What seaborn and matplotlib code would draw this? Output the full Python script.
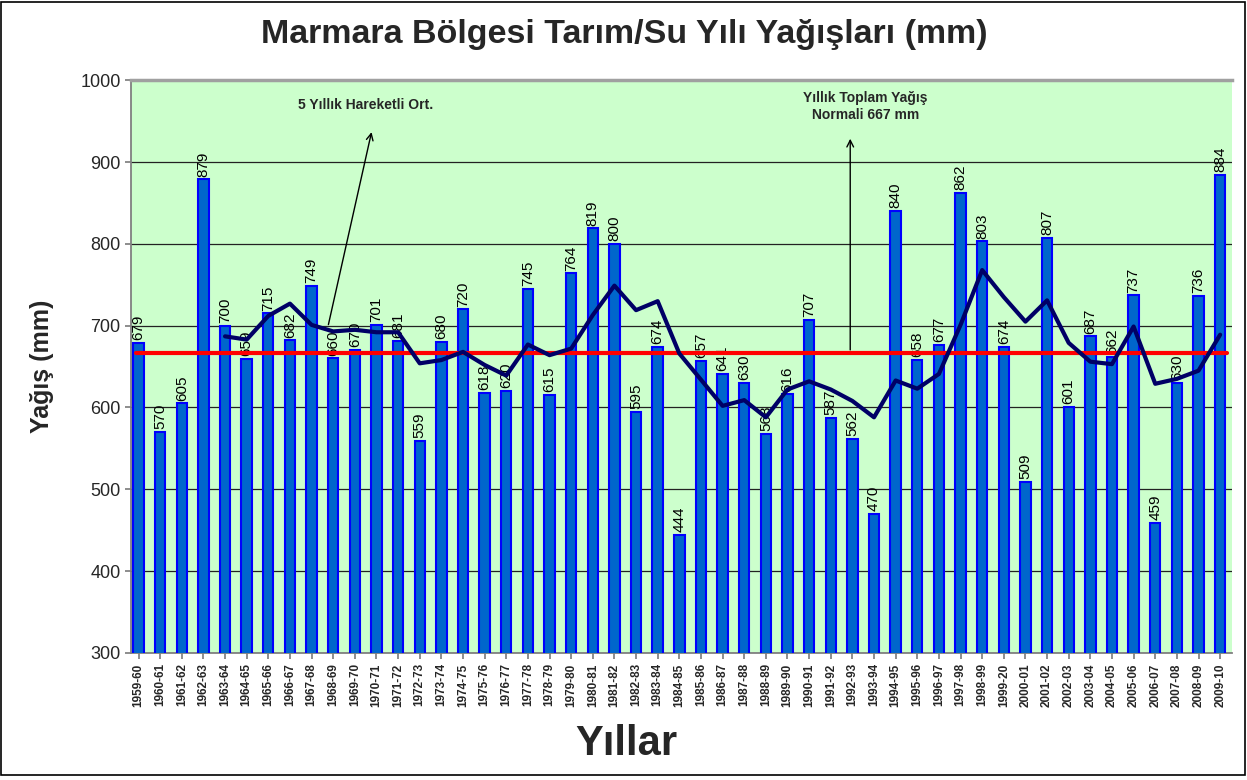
#! /usr/bin/env python3

import numpy as np
import pandas as pd
import matplotlib
matplotlib.use("Agg")
import matplotlib.pyplot as plt
import seaborn as sns
from matplotlib.patches import Rectangle

# water years and annual totals (mm)
seasons = ['1959-60', '1960-61', '1961-62', '1962-63', '1963-64', '1964-65', '1965-66',
           '1966-67', '1967-68', '1968-69', '1969-70', '1970-71', '1971-72', '1972-73',
           '1973-74', '1974-75', '1975-76', '1976-77', '1977-78', '1978-79', '1979-80',
           '1980-81', '1981-82', '1982-83', '1983-84', '1984-85', '1985-86', '1986-87',
           '1987-88', '1988-89', '1989-90', '1990-91', '1991-92', '1992-93', '1993-94',
           '1994-95', '1995-96', '1996-97', '1997-98', '1998-99', '1999-20', '2000-01',
           '2001-02', '2002-03', '2003-04', '2004-05', '2005-06', '2006-07', '2007-08',
           '2008-09', '2009-10']
rain = [679, 570, 605, 879, 700, 659, 715, 682, 749, 660, 670, 701, 681, 559, 680,
        720, 618, 620, 745, 615, 764, 819, 800, 595, 674, 444, 657, 641, 630, 568,
        616, 707, 587, 562, 470, 840, 658, 677, 862, 803, 674, 509, 807, 601, 687,
        662, 737, 459, 630, 736, 884]

# 5 year moving average (starts at 1963-64)
ma_start = '1963-64'
moving_avg = [687, 683, 712, 727, 701, 693, 695, 692, 692, 654, 658, 668, 652, 639,
              677, 664, 672, 713, 749, 719, 730, 666, 634, 602, 609, 588, 622, 632,
              622, 608, 588, 633, 623, 641, 701, 768, 735, 705, 731, 679, 656, 653,
              699, 629, 635, 645, 689]
normal = 667

df = pd.DataFrame({'Sezon': seasons, 'Yagis': rain})
ma_x = np.arange(seasons.index(ma_start), seasons.index(ma_start) + len(moving_avg))

sns.set_theme(style="white")
plt.rcParams['font.family'] = ['Liberation Sans', 'DejaVu Sans']

fig, ax = plt.subplots(figsize=(12.47, 7.8), dpi=100)
fig.subplots_adjust(left=0.105, right=0.988, top=0.897, bottom=0.163)
ax.set_facecolor('#CCFFCC')

sns.barplot(data=df, x='Sezon', y='Yagis', ax=ax, color='#0066CC', width=0.48,
            edgecolor='#0000FF', linewidth=1.5, saturation=1, zorder=3)
ax.bar_label(ax.containers[0], rotation=90, padding=2, fontsize=11, color='black')

ax.axhline(normal, color='#FF0000', lw=3, zorder=4, xmin=0.005, xmax=0.995)
sns.lineplot(x=ma_x, y=moving_avg, ax=ax, color='#000066', lw=3, zorder=5, sort=False)

ax.set_ylim(300, 1000)
ax.set_yticks(range(300, 1001, 100))
ax.set_xlim(-0.35, 50.55)
ax.yaxis.grid(True, color='#222222', lw=0.9, zorder=0)
ax.set_axisbelow(True)

ax.spines['right'].set_visible(False)
for s in ['left', 'bottom']:
    ax.spines[s].set_color('#808080')
    ax.spines[s].set_linewidth(1.3)
ax.spines['top'].set_linewidth(2.5)
ax.spines['top'].set_color('#A0A0A0')

ax.tick_params(axis='y', labelsize=13, length=4, left=True, color='#808080')
ax.tick_params(axis='x', labelsize=8.5, length=4, bottom=True, color='#808080', rotation=90)
for t in ax.get_xticklabels():
    t.set_fontweight('bold')

ax.set_xlabel('Yıllar', fontsize=30, fontweight='bold')
ax.xaxis.set_label_coords(0.45, -0.125)
ax.set_ylabel('Yağış (mm)', fontsize=18, fontweight='bold')
ax.yaxis.set_label_coords(-0.07, 0.5)
fig.suptitle('Marmara Bölgesi Tarım/Su Yılı Yağışları (mm)', fontsize=24.5,
             fontweight='bold', x=0.501, y=0.956, va='center')

# annotations
ax.annotate('5 Yıllık Hareketli Ort.', xy=(10.5, 970), ha='center', va='center',
            fontsize=10, fontweight='bold')
ax.annotate('', xy=(10.8, 940), xytext=(8.75, 698),
            arrowprops=dict(arrowstyle='->', color='black', lw=1))
ax.annotate('Yıllık Toplam Yağış\nNormali 667 mm', xy=(33.6, 968), ha='center',
            va='center', fontsize=10, fontweight='bold')
ax.annotate('', xy=(32.9, 932), xytext=(32.9, normal),
            arrowprops=dict(arrowstyle='->', color='black', lw=1))

fig.patches.append(Rectangle((0.001, 0.006), 0.997, 0.992, transform=fig.transFigure,
                             fill=False, edgecolor='black', lw=1.2))

plt.savefig('out.png', dpi=100)
